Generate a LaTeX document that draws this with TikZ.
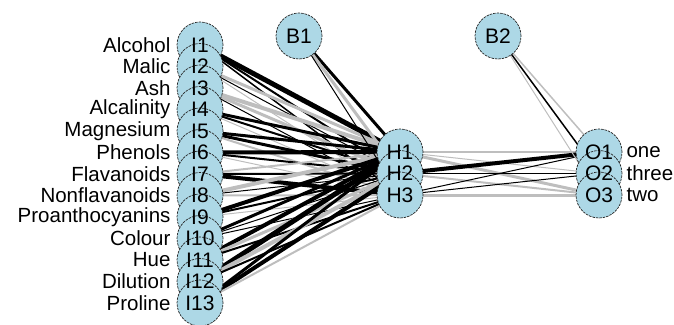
\documentclass[tikz,border=0pt]{standalone}
\usepackage{fontspec}
\setmainfont{Liberation Sans}
\usetikzlibrary{positioning,backgrounds}

\definecolor{nodeblue}{HTML}{ADD8E6}
\definecolor{neggray}{HTML}{BEBEBE}

\tikzset{
  neuron/.style={circle, fill=nodeblue, draw=black!85, dash pattern=on 2.5pt off 1pt,
    line width=0.7pt, minimum size=46pt, inner sep=0pt},
  neurontext/.style={inner sep=0pt, font=\fontsize{21}{22}\selectfont},
  varname/.style={inner sep=0pt, font=\fontsize{20.5}{22}\selectfont},
}

\begin{document}
\begin{tikzpicture}[x=1pt, y=-1pt]

    \useasboundingbox (0,0) rectangle (674,324);

    % circles first
    \foreach \i in {1,...,13}
        \node[neuron] (I\i) at (200,{45+(\i-1)*21.5}) {};
    \node[neuron] (B1) at (299,36) {};
    \node[neuron] (B2) at (498,36) {};
    \foreach \i in {1,2,3}
    {
        \node[neuron] (H\i) at (400,{152+(\i-1)*21.5}) {};
        \node[neuron] (O\i) at (599,{152+(\i-1)*21.5}) {};
    }

    % node texts on top
    \foreach \name [count=\i] in {Alcohol,Malic,Ash,Alcalinity,Magnesium,Phenols,Flavanoids,
        Nonflavanoids,Proanthocyanins,Colour,Hue,Dilution,Proline}
    {
        \node[neurontext] (tI\i) at (I\i) {I\i};
        \node[varname, left=6pt of I\i] (L\i) {\name};
    }
    \node[neurontext] (tB1) at (B1) {B1};
    \node[neurontext] (tB2) at (B2) {B2};
    \foreach \i/\lab in {1/one, 2/three, 3/two}
    {
        \node[neurontext] (tH\i) at (H\i) {H\i};
        \node[neurontext] (tO\i) at (O\i) {O\i};
        \node[varname, right=4pt of O\i] (R\i) {\lab};
    }

    \begin{pgfonlayer}{background}
        % input -> hidden
        \foreach \i/\j/\c/\w in {1/1/black/5, 1/2/black/2, 1/3/black/1.5,
            2/1/neggray/3, 2/2/black/1, 2/3/neggray/1,
            3/1/neggray/4, 3/2/neggray/3, 3/3/black/1,
            4/1/black/3, 4/2/black/2, 4/3/neggray/1,
            5/1/black/3, 5/2/black/3, 5/3/neggray/2,
            6/1/black/4, 6/2/black/2, 6/3/neggray/1,
            7/1/neggray/2, 7/2/black/2, 7/3/black/4,
            8/1/neggray/4, 8/2/black/1, 8/3/neggray/2,
            9/1/black/4, 9/2/black/2, 9/3/neggray/1,
            10/1/black/3, 10/2/black/1, 10/3/black/1,
            11/1/black/4, 11/2/neggray/3, 11/3/black/2,
            12/1/black/5, 12/2/neggray/4, 12/3/black/2,
            13/1/black/3, 13/2/black/4, 13/3/neggray/2}
            \draw[draw=\c, line width=\w pt] (I\i.center) -- (H\j.center);

        % bias -> hidden
        \foreach \j/\c/\w in {1/black/3, 2/neggray/3, 3/black/1}
            \draw[draw=\c, line width=\w pt] (B1.center) -- (H\j.center);

        % hidden -> output
        \foreach \i/\j/\c/\w in {1/1/neggray/2, 1/2/neggray/1, 1/3/neggray/3,
            2/1/black/4, 2/2/black/1, 2/3/neggray/2,
            3/1/black/1, 3/2/black/1, 3/3/neggray/3}
            \draw[draw=\c, line width=\w pt] (H\i.center) -- (O\j.center);

        % bias -> output
        \foreach \j/\c/\w in {1/neggray/1.5, 2/black/1.5, 3/neggray/1}
            \draw[draw=\c, line width=\w pt] (B2.center) -- (O\j.center);
    \end{pgfonlayer}

\end{tikzpicture}
\end{document}
